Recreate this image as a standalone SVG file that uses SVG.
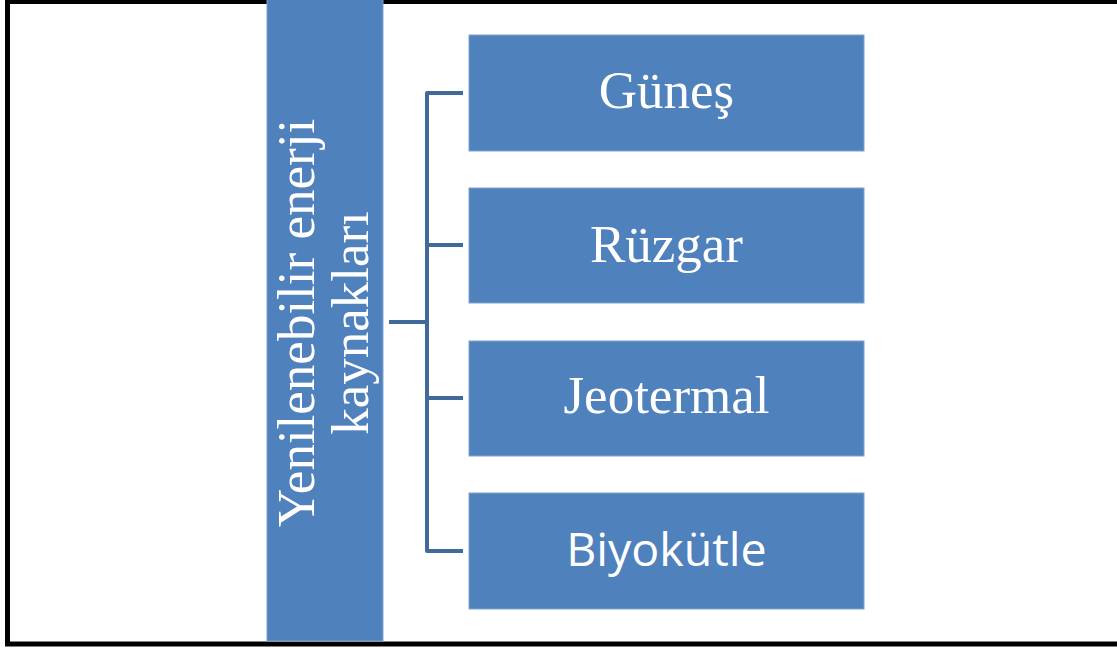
<svg xmlns="http://www.w3.org/2000/svg" width="1117" height="648" viewBox="0 0 1117 648">
<style>
.box{fill:#4F81BD;stroke:#7FA2D0;stroke-width:1}
.serif{font-family:"Liberation Serif","Times New Roman",serif;fill:#fff;font-size:53px}
.sans{font-family:"Open Sans","Liberation Sans",sans-serif;fill:#fff}
.conn{fill:none;stroke:#41699A;stroke-width:4;stroke-linejoin:round}
</style>
<rect x="0" y="0" width="1117" height="648" fill="#fff"/>
<rect x="7.5" y="1.5" width="1130" height="642.5" fill="none" stroke="#000" stroke-width="5"/>
<g id="root">
<rect class="box" x="267" y="-2" width="116" height="643"/>
<text class="serif" text-anchor="middle" transform="translate(314,323) rotate(-90)">Yenilenebilir enerji</text>
<text class="serif" text-anchor="middle" transform="translate(368,323) rotate(-90)">kaynakları</text>
</g>
<g id="connectors">
<path class="conn" d="M389,322 H427 M463,93 H427 V551 H463 M427,245 H463 M427,398 H463"/>
</g>
<g id="gunes">
<rect class="box" x="469" y="35" width="395" height="116"/>
<text class="serif" x="666.5" y="108" text-anchor="middle">Güneş</text>
</g>
<g id="ruzgar">
<rect class="box" x="469" y="188" width="395" height="115"/>
<text class="serif" x="666.5" y="262" text-anchor="middle">Rüzgar</text>
</g>
<g id="jeotermal">
<rect class="box" x="469" y="341" width="395" height="115"/>
<text class="serif" x="666.5" y="413" text-anchor="middle">Jeotermal</text>
</g>
<g id="biyokutle">
<rect class="box" x="469" y="493" width="395" height="116"/>
<text class="sans" font-size="46.5" x="666.5" y="566" text-anchor="middle">Biyokütle</text>
</g>
</svg>
